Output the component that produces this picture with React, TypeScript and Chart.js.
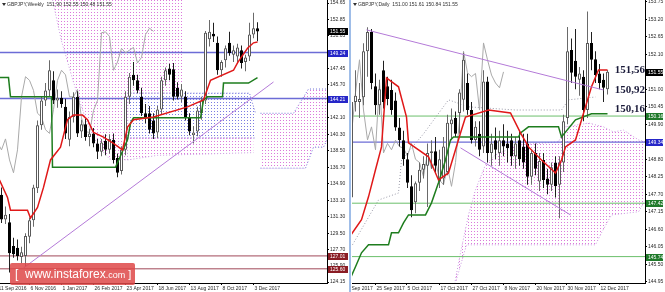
import React, { useEffect, useRef } from 'react';
import { Chart, registerables } from 'chart.js';
Chart.register(...registerables);

// ================= WEEKLY (left panel) =================
const weeklyFirstIndex = 1; // week index of first candle (index 0 = 11 Sep 2016)
const weeklyOpen = [133.7,131.0,130.7,128.1,127.9,126.9,127.0,129.1,130.9,134.4,141.3,144.0,145.1,146.2,144.0,144.3,143.3,139.7,142.2,144.4,140.6,141.4,140.0,140.4,139.3,138.4,139.6,138.6,139.7,137.7,136.3,138.6,144.4,146.8,146.2,144.4,142.6,142.6,141.8,140.5,143.0,146.2,147.5,147.4,145.4,144.4,144.4,142.1,140.2,140.6,142.6,144.0,150.7,151.3,150.3,147.3,148.4,150.3,149.0,148.8,149.5,148.2,148.8,151.2,151.90];
const weeklyHigh = [134.5,132.4,131.6,129.0,128.8,128.0,129.5,131.2,134.8,141.8,144.5,145.9,148.4,147.2,145.2,145.0,144.2,142.8,144.9,145.0,141.9,142.0,140.9,141.0,139.8,139.8,140.3,140.3,140.4,138.2,139.0,145.0,147.0,148.2,146.8,145.4,143.6,143.4,142.6,143.4,146.6,147.6,148.0,148.1,146.0,145.8,145.0,142.6,141.2,143.3,144.4,151.6,152.8,152.5,151.0,148.4,150.0,151.5,150.0,150.2,150.0,149.0,152.5,153.6,152.55];
const weeklyLow = [130.6,130.5,125.2,126.8,126.5,126.2,125.8,128.4,130.2,133.9,140.8,143.4,144.5,143.6,143.2,143.2,139.8,139.0,141.6,140.0,139.9,139.6,139.0,138.9,137.6,137.9,138.0,138.2,137.1,135.6,135.9,138.0,143.6,145.6,144.8,142.3,141.5,140.4,139.8,139.9,142.5,145.6,146.2,144.0,144.1,143.8,141.8,140.2,139.3,140.1,141.9,143.6,149.9,150.4,146.8,146.6,147.6,148.9,148.2,148.0,147.5,147.2,148.3,150.8,150.48];
const weeklyClose = [131.0,131.5,127.3,127.2,127.0,127.4,129.2,130.9,134.5,141.3,144.0,145.1,147.3,144.0,144.3,143.6,140.4,142.2,144.4,140.4,141.4,140.0,140.4,139.3,138.4,139.4,138.6,139.8,137.5,136.1,138.6,144.4,146.6,146.2,145.1,142.6,142.2,140.8,140.4,143.0,146.2,147.3,146.8,144.4,144.4,145.2,142.1,140.6,140.5,142.9,144.0,151.4,151.5,151.0,147.3,148.2,149.7,149.2,149.5,149.8,148.1,148.7,151.2,151.9,151.55];
const weeklyTenkan = [[0.5,135.3],[2.5,133.4],[3.25,132.0],[7.5,132.0],[8.25,131.15],[10,132.3],[11.5,134.5],[13.25,137.5],[15.75,138.9],[17.5,141.9],[19,142.4],[21.25,142.4],[22.5,141.9],[24,140.5],[26.5,140.0],[29,139.3],[31.25,138.6],[32.5,141.1],[34,141.9],[39,142.2],[47.5,143.3],[51.5,144.05],[53.25,146.2],[59,147.3],[60,148.1],[60.75,148.6],[62.5,149.7],[64,150.3],[65,150.4]];
const weeklyKijun = [[0.5,146.5],[2.75,146.5],[3.25,144.4],[13.5,144.4],[13.75,136.7],[29.5,136.7],[32.5,139.7],[33.25,141.5],[34,142.1],[50.75,142.1],[51.5,144.05],[52.5,144.4],[56.25,144.4],[56.5,145.9],[62.75,145.9],[65,146.5]];
const weeklyCloudPinkTop = [[13.75,160],[46.25,160]];
const weeklyCloudPinkBottom = [[13.75,155],[16,150.5],[19,146],[22,142],[25,139.1],[28,137.6],[32.5,137.5],[32.6,144.8],[46.25,144.8]];
const weeklyCloudBlueTop = [[32.5,144.8],[63,144.8],[64.5,142.6]];
const weeklyCloudBlueBottom = [[32.5,139.9],[64.5,139.9]];
const weeklyCloudBandTop = [[32.5,139.9],[64,139.9]];
const weeklyCloudBandBottom = [[32.5,137.5],[40,138.0],[64,138.3]];
const weeklyCloudFutureTop = [[65.75,142.6],[74,142.6],[77.75,145.25],[82.75,145.25]];
const weeklyCloudFutureBottom = [[65.75,136.6],[77,136.6],[79,138.9],[81.5,138.9],[82.75,140]];
const weeklyBlueLevels = [149.24, 144.21];
const weeklyRedLevels = [127.01, 125.60];
const weeklyTrend = [[6.5,125.69],[69,146.02]];
const weeklyYTicks = [124.15,125.90,127.70,129.50,131.30,133.10,134.90,136.70,138.50,140.30,142.10,143.90,145.70,147.45,149.25,151.05,152.85,154.65];
const weeklyXLabels: [number, string][] = [[0,'11 Sep 2016'],[8,'6 Nov 2016'],[16,'1 Jan 2017'],[24,'26 Feb 2017'],[32,'23 Apr 2017'],[40,'18 Jun 2017'],[48,'13 Aug 2017'],[56,'8 Oct 2017'],[64,'3 Dec 2017']];
const weeklyBadges: [number, string, string][] = [[151.55,'151.55','#000000'],[149.24,'149.24','#2626c8'],[144.21,'144.21','#2626c8'],[127.01,'127.01','#8a1c24'],[125.60,'125.60','#8a1c24']];
const weeklyHeader = 'GBPJPY,Weekly  151.90 152.55 150.48 151.55';

// ================= DAILY (right panel) =================
const dailyFirstIndex = -6; // index 0 = 25 Sep 2017
const dailyOpen = [147.6,150.6,150.6,150.75,152.2,152.8,151.1,150.5,151.6,151.1,150.98,150.65,149.8,149.4,148.8,147.95,147.45,148.06,148.47,148.6,149.0,149.05,148.1,148.2,148.4,149.9,150.1,150.26,150.67,151.2,150.35,149.41,149.6,149.2,151.25,149.0,149.4,149.0,149.4,149.3,149.4,148.9,149.4,149.2,149.3,148.25,149.0,148.1,148.78,148.2,148.0,148.7,148.0,148.7,150.1,152.24,151.9,151.3,151.4,150.35,152.46,151.95,151.5,151.3,151.00];
const dailyHigh = [150.8,151.6,151.2,152.45,152.95,152.9,151.5,151.3,151.9,151.4,151.3,150.9,150.1,149.7,149.0,148.3,148.1,148.7,148.9,149.3,149.4,149.5,149.1,149.5,150.2,150.4,150.3,151.0,152.15,151.5,150.6,150.0,150.0,151.6,151.4,149.6,149.8,149.7,149.9,149.7,149.6,149.5,149.7,149.6,149.6,149.1,149.3,149.0,149.0,148.5,148.7,148.9,148.9,150.2,152.96,152.6,152.9,151.7,151.6,153.45,152.8,152.2,151.8,151.5,151.61];
const dailyLow = [147.4,150.3,150.1,150.5,151.4,151.0,150.2,150.2,150.4,150.5,150.2,149.7,149.2,148.6,147.9,146.98,147.1,147.8,148.2,147.3,148.5,148.4,147.9,148.0,148.3,149.4,149.5,149.6,150.3,150.2,149.3,149.2,148.9,149.0,148.7,148.6,148.8,148.6,148.9,148.7,148.6,148.5,148.6,148.5,148.0,148.0,148.3,147.8,147.9,147.7,147.8,147.6,146.95,148.4,149.9,151.2,151.0,150.8,150.0,150.1,151.6,151.2,151.0,150.6,150.84];
const dailyClose = [150.6,150.8,150.7,152.2,152.8,151.2,150.5,151.0,150.6,150.7,150.35,149.8,149.4,148.8,148.06,147.2,148.05,148.47,148.65,149.0,149.05,148.6,148.8,149.2,149.95,150.05,149.6,150.9,151.93,150.35,149.41,149.82,149.1,151.25,149.0,149.3,149.1,149.4,149.2,149.15,148.9,149.3,148.8,148.7,148.25,149.0,148.5,148.75,148.15,148.0,148.55,147.95,148.7,150.0,152.2,151.52,151.4,151.5,150.35,152.46,151.93,151.45,151.2,151.05,151.55];
const dailyTenkan = [[-6.5,146.36],[-3.5,146.9],[-1.75,147.62],[0,148.47],[1.5,149.19],[2.75,151.36],[5.75,151.08],[7.75,150.13],[8.25,149.32],[13.25,148.88],[15.75,148.15],[18.25,148.37],[20,149.1],[21.25,149.63],[22.5,150.13],[28.25,150.35],[33.75,150.26],[36.25,149.63],[38.25,149.19],[41.5,148.78],[45,148.37],[46.5,148.78],[47.5,149.19],[50,149.41],[54,151.08],[55.75,151.61],[58,151.61]];
const dailyKijun = [[-6.5,145.0],[-5,145.42],[-3.5,145.86],[-1.75,146.11],[3.25,146.11],[4,146.49],[5.75,146.49],[7,146.8],[8.25,147.05],[12.5,147.05],[14,147.43],[15.75,148.06],[17.5,148.78],[18.75,149.41],[19.5,149.5],[35.75,149.5],[36.25,149.63],[38.25,149.82],[45.75,149.82],[46.5,149.5],[50,150.04],[54,150.23],[58,150.23]];
const dailyCloudTop = [[19.5,144.7],[21.25,145.86],[23.25,147.05],[25,147.84],[27.5,148.63],[30,148.94],[35.75,149.25],[45.75,149.35],[47.5,149.82],[53.25,149.94],[57,149.82],[59.5,149.66],[62,149.72],[65.75,149.41],[67.5,149.35]];
const dailyCloudBottom = [[19.5,144.7],[22.75,146.11],[55,146.11],[56.5,146.49],[59,147.05],[65.75,147.15],[67.5,147.52]];
const dailySpanLine = [[-6.5,145.95],[0.75,147.52],[5.75,147.74],[6.5,148.78],[12,149.6],[18.25,150.67],[23.25,150.45],[35,150.35],[46.5,150.35],[48.25,150.67],[55,150.76]];
const dailyBlueLevels = [149.34];
const dailyGreenLevels = [150.16, 147.42, 145.74];
const dailyTrendA = [[-2.25,152.87],[57,150.98]];
const dailyTrendB = [[21.25,149.16],[48.75,147.05]];
const dailyYTicks = [144.95,145.50,146.05,146.60,147.15,147.70,148.25,148.80,149.35,149.90,150.45,151.00,151.55,152.10,152.65,153.20,153.75];
const dailyXLabels: [number, string][] = [[-8,'13 Sep 2017'],[0,'25 Sep 2017'],[8,'5 Oct 2017'],[16,'17 Oct 2017'],[24,'27 Oct 2017'],[32,'8 Nov 2017'],[40,'20 Nov 2017'],[48,'30 Nov 2017'],[56,'12 Dec 2017']];
const dailyBadges: [number, string, string][] = [[151.55,'151.55','#000000'],[150.16,'150.16','#1f7a2a'],[149.34,'149.34','#2626c8'],[147.42,'147.42','#1f7a2a'],[145.74,'145.74','#1f7a2a']];
const dailyNoteValues = [151.56, 150.92, 150.16];
const dailyNoteTexts = ['151,56', '150,92', '150,16'];
const dailyHeader = 'GBPJPY,Daily  151.00 151.61 150.84 151.55';

// ================= chart builder =================
type Cloud = { top: number[][]; bottom: number[][]; dot: string; border: string };
type Spec = {
  padLeft: number; axisWidth: number;
  xMin: number; xMax: number; yMin: number; yMax: number;
  first: number; open: number[]; high: number[]; low: number[]; close: number[];
  tenkan: number[][]; kijun: number[][]; clouds: Cloud[]; dotted: number[][][];
  levels: { values: number[]; color: string; width: number }[];
  trends: number[][][]; yTicks: number[]; xLabels: [number, string][];
  badges: [number, string, string][]; header: string; headerX: number;
  notes?: { values: number[]; texts: string[]; dy: number[] };
};

const pts = (arr: number[][]) => arr.map(([x, y]) => ({ x, y }));

function makeChart(canvas: HTMLCanvasElement, s: Spec): Chart {
  const ctx = canvas.getContext('2d')!;
  const pattern = (color: string) => {
    const c = document.createElement('canvas');
    c.width = 3; c.height = 3;
    const g = c.getContext('2d')!;
    g.fillStyle = color; g.fillRect(1, 0, 1, 1);
    return ctx.createPattern(c, 'repeat')!;
  };
  const ds: any[] = [];
  s.clouds.forEach((cl) => {
    const p = pattern(cl.dot);
    const topIdx = ds.length;
    ds.push({ type: 'line', data: pts(cl.top), borderColor: cl.border, borderWidth: 1, borderDash: [1, 2], pointRadius: 0, fill: false, order: 30 });
    ds.push({ type: 'line', data: pts(cl.bottom), borderColor: cl.border, borderWidth: 1, borderDash: [1, 2], pointRadius: 0, backgroundColor: p, fill: { target: topIdx, above: p, below: p }, order: 29 });
  });
  s.dotted.forEach((d) => ds.push({ type: 'line', data: pts(d), borderColor: '#9a9aa8', borderWidth: 1, borderDash: [1, 2], pointRadius: 0, fill: false, order: 25 }));
  s.levels.forEach((lv) => lv.values.forEach((v) => ds.push({ type: 'line', data: [{ x: s.xMin - 2, y: v }, { x: s.xMax + 2, y: v }], borderColor: lv.color, borderWidth: lv.width, pointRadius: 0, fill: false, order: 20 })));
  // chikou: closes shifted back 26 periods
  const chikou = s.close.map((c, k) => ({ x: s.first + k - 26, y: c })).filter((p) => p.x >= s.xMin - 1);
  ds.push({ type: 'line', data: chikou, borderColor: '#a9a9a9', borderWidth: 1, pointRadius: 0, fill: false, order: 18 });
  const up = s.close.map((c, k) => c >= s.open[k]);
  ds.push({
    type: 'bar', data: s.low.map((l, k) => ({ x: s.first + k, y: [l, s.high[k]] })),
    backgroundColor: up.map((u) => (u ? '#6a6a6a' : '#202020')), borderWidth: 0,
    grouped: false, barPercentage: 0.25, categoryPercentage: 1, inflateAmount: 0, order: 12,
  });
  ds.push({
    type: 'bar', data: s.open.map((o, k) => ({ x: s.first + k, y: [o, s.close[k]] })),
    backgroundColor: up.map((u) => (u ? '#ffffff' : '#000000')), borderColor: up.map((u) => (u ? '#5a5a5a' : '#000000')),
    borderWidth: 1, borderSkipped: false, minBarLength: 1,
    grouped: false, barPercentage: 0.75, categoryPercentage: 1, inflateAmount: 0, order: 11,
  });
  ds.push({ type: 'line', data: pts(s.kijun), borderColor: '#1e7d1e', borderWidth: 1.5, pointRadius: 0, fill: false, order: 6 });
  ds.push({ type: 'line', data: pts(s.tenkan), borderColor: '#e01818', borderWidth: 1.5, pointRadius: 0, fill: false, order: 5 });
  s.trends.forEach((t) => ds.push({ type: 'line', data: pts(t), borderColor: '#b47ad8', borderWidth: 1, pointRadius: 0, fill: false, order: 4 }));

  const overlay = {
    id: 'overlay',
    afterDraw(chart: any) {
      const c: CanvasRenderingContext2D = chart.ctx;
      const area = chart.chartArea;
      const xs = chart.scales.x, ys = chart.scales.y;
      c.save();
      // x labels with tick marks
      c.font = '5px "Liberation Sans"';
      c.fillStyle = '#2a2a2a';
      c.textBaseline = 'top';
      c.textAlign = 'left';
      c.strokeStyle = '#000';
      c.lineWidth = 1;
      s.xLabels.forEach(([v, t]) => {
        const px = Math.round(xs.getPixelForValue(v)) - 0.5;
        c.beginPath(); c.moveTo(px, area.bottom); c.lineTo(px, area.bottom + 2); c.stroke();
        c.fillText(t, px + 1, area.bottom + 3);
      });
      // badges
      c.textBaseline = 'middle';
      s.badges.forEach(([v, t, col]) => {
        const py = Math.round(ys.getPixelForValue(v));
        c.fillStyle = col;
        c.fillRect(area.right + 1, py - 3, chart.width - area.right - 3, 7);
        c.fillStyle = '#ffffff';
        c.fillText(t, area.right + 3, py + 0.5);
      });
      // header
      c.fillStyle = '#303030';
      c.beginPath(); c.moveTo(s.headerX - 5, 3); c.lineTo(s.headerX - 1, 3); c.lineTo(s.headerX - 3, 6); c.closePath(); c.fill();
      c.textBaseline = 'top';
      c.fillText(s.header, s.headerX, 2);
      // level notes
      if (s.notes) {
        c.font = 'bold 11px "Liberation Serif"';
        c.fillStyle = '#1b1b3a';
        c.textAlign = 'right';
        c.textBaseline = 'alphabetic';
        s.notes.values.forEach((v, k) => {
          const py = ys.getPixelForValue(v) + 1 + s.notes!.dy[k];
          c.fillText(s.notes!.texts[k], area.right, py);
        });
      }
      c.restore();
    },
  };

  return new Chart(ctx, {
    type: 'line',
    data: { datasets: ds },
    plugins: [overlay],
    options: {
      animation: false,
      responsive: false,
      maintainAspectRatio: false,
      devicePixelRatio: 1,
      events: [],
      layout: { padding: { left: s.padLeft, right: 0, top: 0, bottom: 0 } },
      plugins: { legend: { display: false }, tooltip: { enabled: false } },
      scales: {
        x: {
          type: 'linear', min: s.xMin, max: s.xMax, offset: false,
          grid: { display: false }, ticks: { display: false },
          border: { display: true, color: '#000', width: 1 },
          afterBuildTicks: (sc: any) => { sc.ticks = s.xLabels.map(([v]) => ({ value: v })); },
          afterFit: (sc: any) => { sc.height = 9; sc.paddingLeft = 0; sc.paddingRight = 0; },
        },
        y: {
          type: 'linear', position: 'right', min: s.yMin, max: s.yMax,
          grid: { display: true, drawOnChartArea: false, drawTicks: true, tickLength: 2, color: '#000' },
          border: { display: true, color: '#000', width: 1 },
          ticks: { font: { family: 'Liberation Sans', size: 5 }, color: '#2a2a2a', padding: 1, autoSkip: false, callback: (v: any) => Number(v).toFixed(2) },
          afterBuildTicks: (sc: any) => { sc.ticks = s.yTicks.map((v) => ({ value: v })); },
          afterFit: (sc: any) => { sc.width = s.axisWidth; sc.paddingTop = 0; sc.paddingBottom = 0; },
        },
      },
    } as any,
  });
}

const weeklySpec: Spec = {
  padLeft: 0, axisWidth: 23, xMin: 0.625, xMax: 82.375, yMin: 124.05, yMax: 154.98,
  first: weeklyFirstIndex, open: weeklyOpen, high: weeklyHigh, low: weeklyLow, close: weeklyClose,
  tenkan: weeklyTenkan, kijun: weeklyKijun,
  clouds: [
    { top: weeklyCloudPinkTop, bottom: weeklyCloudPinkBottom, dot: '#dc78dc', border: '#c99ae0' },
    { top: weeklyCloudBandTop, bottom: weeklyCloudBandBottom, dot: '#dc78dc', border: '#c99ae0' },
    { top: weeklyCloudBlueTop, bottom: weeklyCloudBlueBottom, dot: '#7c7ce2', border: '#7070d8' },
    { top: weeklyCloudFutureTop, bottom: weeklyCloudFutureBottom, dot: '#dc78dc', border: '#7070d8' },
  ],
  dotted: [],
  levels: [
    { values: weeklyBlueLevels, color: '#6c6cd6', width: 1.6 },
    { values: weeklyRedLevels, color: '#a04858', width: 1 },
  ],
  trends: [weeklyTrend], yTicks: weeklyYTicks, xLabels: weeklyXLabels, badges: weeklyBadges,
  header: weeklyHeader, headerX: 7,
};

const dailySpec: Spec = {
  padLeft: 2, axisWidth: 20, xMin: -5.875, xMax: 67.375, yMin: 144.91, yMax: 153.81,
  first: dailyFirstIndex, open: dailyOpen, high: dailyHigh, low: dailyLow, close: dailyClose,
  tenkan: dailyTenkan, kijun: dailyKijun,
  clouds: [{ top: dailyCloudTop, bottom: dailyCloudBottom, dot: '#dc78dc', border: '#c99ae0' }],
  dotted: [dailySpanLine],
  levels: [
    { values: dailyBlueLevels, color: '#6c6cd6', width: 1.4 },
    { values: dailyGreenLevels, color: '#6cbf6c', width: 1 },
  ],
  trends: [dailyTrendA, dailyTrendB], yTicks: dailyYTicks, xLabels: dailyXLabels, badges: dailyBadges,
  header: dailyHeader, headerX: 8,
  notes: { values: dailyNoteValues, texts: dailyNoteTexts, dy: [0, 0, -5] },
};

export default function App() {
  const leftRef = useRef<HTMLCanvasElement>(null);
  const rightRef = useRef<HTMLCanvasElement>(null);
  useEffect(() => {
    document.body.style.margin = '0';
    const c1 = makeChart(leftRef.current!, weeklySpec);
    const c2 = makeChart(rightRef.current!, dailySpec);
    return () => { c1.destroy(); c2.destroy(); };
  }, []);
  return (
    <div style={{ position: 'fixed', left: 0, top: 0, width: 665, height: 292, background: '#ffffff', overflow: 'hidden' }}>
      <canvas ref={leftRef} width={350} height={292} style={{ position: 'absolute', left: 0, top: 0, width: 350, height: 292 }} />
      <div style={{ position: 'absolute', left: 349, top: 0, width: 2, height: 292, background: '#9fbde8' }} />
      <canvas ref={rightRef} width={315} height={292} style={{ position: 'absolute', left: 350, top: 0, width: 315, height: 292 }} />
      <div style={{ position: 'absolute', left: 10, top: 263, width: 125, height: 22, background: 'rgba(222,72,72,0.85)', borderRadius: 2, color: '#fff', fontFamily: '"Liberation Sans", Arial, sans-serif', display: 'flex', alignItems: 'center', paddingLeft: 5, boxSizing: 'border-box', whiteSpace: 'nowrap' }}>
        <span style={{ fontSize: 12 }}>[&nbsp;&nbsp;www.instaforex</span>
        <span style={{ fontSize: 9, marginTop: 2 }}>.com</span>
        <span style={{ fontSize: 11 }}>&nbsp;]</span>
      </div>
    </div>
  );
}
